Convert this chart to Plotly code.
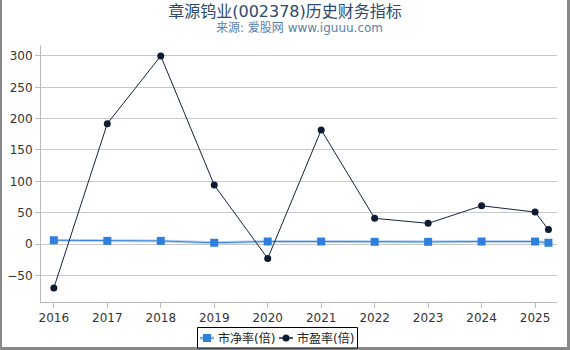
import plotly.graph_objects as go

years = [2016, 2017, 2018, 2019, 2020, 2021, 2022, 2023, 2024, 2025, 2025.25]
pb = [6, 5, 5, 2, 4, 4, 3.5, 3.5, 4, 4, 2]
pe = [-70, 192, 300, 94, -23, 182, 41, 33, 61, 51, 23]
tick_years = [2016, 2017, 2018, 2019, 2020, 2021, 2022, 2023, 2024, 2025]
series_names = ["市净率(倍)", "市盈率(倍)"]

W, H = 570, 350
ml, mr, mt, mb = 41, 13, 45, 48
pw, ph = W - ml - mr, H - mt - mb

PB_COLOR, PB_HALO, PE_COLOR = "#2f7fdc", "rgba(140,185,235,0.6)", "#0e1b33"

fig = go.Figure()
fig.add_trace(go.Scatter(x=years, y=pb, name=series_names[0], mode="lines",
                         line=dict(color=PB_HALO, width=3), hoverinfo="skip"))
fig.add_trace(go.Scatter(x=years, y=pb, name=series_names[0], mode="lines+markers",
                         line=dict(color="#3a84d8", width=1),
                         marker=dict(symbol="square", size=8, color=PB_COLOR)))
fig.add_trace(go.Scatter(x=years, y=pe, name=series_names[1], mode="lines+markers",
                         line=dict(color="#13233f", width=1),
                         marker=dict(symbol="circle", size=7, color=PE_COLOR)))

def px_x(p):
    return (p - ml) / pw

def px_y(p):
    return (H - mb - p) / ph

border = "#888888"
shapes = [
    dict(type="rect", x0=px_x(0), x1=px_x(2), y0=px_y(H), y1=px_y(0),
         fillcolor=border, line=dict(width=0)),
    dict(type="rect", x0=px_x(W - 3), x1=px_x(W), y0=px_y(H), y1=px_y(0),
         fillcolor=border, line=dict(width=0)),
    dict(type="rect", x0=px_x(0), x1=px_x(W), y0=px_y(H), y1=px_y(H - 3),
         fillcolor=border, line=dict(width=0)),
    # legend box
    dict(type="rect", x0=px_x(197.5), x1=px_x(357.5), y0=px_y(348), y1=px_y(327.5),
         fillcolor="white", line=dict(color="black", width=1)),
    # legend symbol 1
    dict(type="line", x0=px_x(200), x1=px_x(214), y0=px_y(338), y1=px_y(338),
         line=dict(color=PB_HALO, width=3)),
    dict(type="line", x0=px_x(200), x1=px_x(214), y0=px_y(338), y1=px_y(338),
         line=dict(color="#3a84d8", width=1)),
    dict(type="rect", x0=px_x(203), x1=px_x(211), y0=px_y(342), y1=px_y(334),
         fillcolor=PB_COLOR, line=dict(width=0)),
    # legend symbol 2
    dict(type="line", x0=px_x(279), x1=px_x(293), y0=px_y(338), y1=px_y(338),
         line=dict(color="#13233f", width=1.5)),
    dict(type="circle", x0=px_x(282.5), x1=px_x(289.5), y0=px_y(341.5), y1=px_y(334.5),
         fillcolor=PE_COLOR, line=dict(width=0)),
]
for s in shapes:
    s.update(xref="paper", yref="paper", layer="above")

annotations = [
    dict(text="来源: 爱股网 www.iguuu.com", x=0.5, y=px_y(28), xanchor="center",
         yanchor="middle", font=dict(size=12, color="#5b80aa")),
    dict(text=series_names[0], x=px_x(216), y=px_y(338), xanchor="left", yanchor="middle",
         font=dict(size=12, color="#222222")),
    dict(text=series_names[1], x=px_x(295), y=px_y(338), xanchor="left", yanchor="middle",
         font=dict(size=12, color="#222222")),
]
for a in annotations:
    a.update(xref="paper", yref="paper", showarrow=False)

fig.update_layout(
    width=W, height=H,
    margin=dict(l=ml, r=mr, t=mt, b=mb, autoexpand=False),
    paper_bgcolor="white", plot_bgcolor="white",
    font=dict(family="DejaVu Sans, Noto Sans CJK SC", size=12, color="#333333"),
    title=dict(text="章源钨业(002378)历史财务指标", x=0.5, xanchor="center",
               y=1 - 11 / H, yanchor="middle",
               font=dict(size=16, color="#2b4a6e")),
    annotations=annotations,
    shapes=shapes,
    showlegend=False,
)
fig.update_xaxes(range=[2015.76, 2025.41], tickvals=tick_years, ticktext=[str(y) for y in tick_years],
                 showgrid=False, showline=True, linecolor="#bbbbbb", ticks="outside",
                 tickcolor="#bbbbbb", ticklen=5, zeroline=False, tickfont=dict(size=12),
                 automargin=False)
fig.update_yaxes(range=[-92.5, 317.5], tickvals=[-50, 0, 50, 100, 150, 200, 250, 300],
                 showgrid=True, gridcolor="#c8c8c8", showline=True, linecolor="#bbbbbb",
                 ticks="outside", tickcolor="#bbbbbb", ticklen=5, zeroline=False,
                 tickfont=dict(size=12), automargin=False)

fig.write_html("out.html")
